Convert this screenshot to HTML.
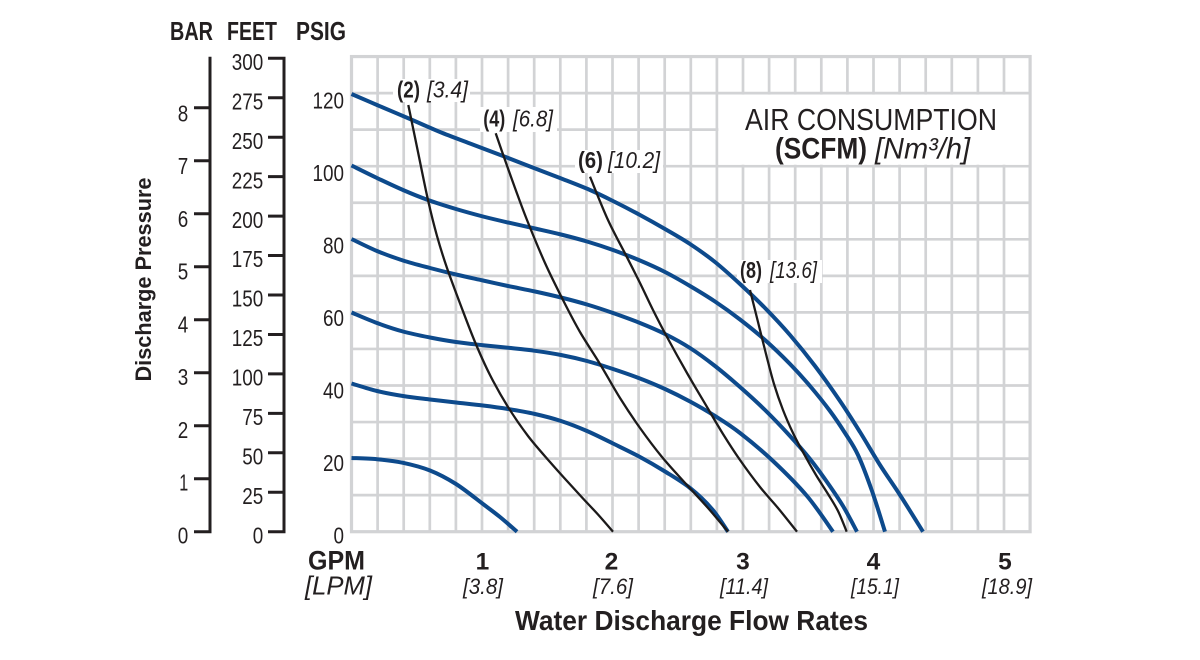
<!DOCTYPE html>
<html><head><meta charset="utf-8"><style>
html,body{margin:0;padding:0;background:#fff;}
svg{display:block;}
text{font-family:"Liberation Sans",Arial,sans-serif;fill:#231f20;}
.b{font-weight:bold;}
.i{font-style:italic;}
</style></head><body>
<svg id="chart" width="1200" height="660" viewBox="0 0 1200 660" xmlns="http://www.w3.org/2000/svg">
<rect width="1200" height="660" fill="#fff"/>
<!-- grid -->
<path stroke="#d2d3d5" stroke-width="2.7" fill="none" d="
M377.6 56.55V531.7M403.7 56.55V531.7M429.8 56.55V531.7M455.9 56.55V531.7M482 56.55V531.7M508.1 56.55V531.7M534.2 56.55V531.7M560.3 56.55V531.7M586.4 56.55V531.7M612.5 56.55V531.7M638.6 56.55V531.7M664.7 56.55V531.7M690.8 56.55V531.7M716.9 56.55V531.7M743 56.55V531.7M769.1 56.55V531.7M795.2 56.55V531.7M821.3 56.55V531.7M847.4 56.55V531.7M873.5 56.55V531.7M899.6 56.55V531.7M925.7 56.55V531.7M951.8 56.55V531.7M977.9 56.55V531.7M1004 56.55V531.7
M351.5 495.15H1030.1M351.5 458.6H1030.1M351.5 422.05H1030.1M351.5 385.5H1030.1M351.5 348.95H1030.1M351.5 312.4H1030.1M351.5 275.85H1030.1M351.5 239.3H1030.1M351.5 202.75H1030.1M351.5 166.2H1030.1M351.5 129.65H1030.1M351.5 93.1H1030.1"/>
<rect x="351.5" y="56.55" width="678.6" height="475.15" fill="none" stroke="#d2d3d5" stroke-width="3.2"/>
<!-- white label boxes -->
<rect x="718.4" y="94.6" width="310.2" height="70.1" fill="#fff"/>
<rect x="393" y="79" width="77" height="23" fill="#fff"/>
<rect x="480" y="107" width="77" height="25" fill="#fff"/>
<rect x="575" y="150" width="88" height="23" fill="#fff"/>
<rect x="737" y="260" width="85" height="23" fill="#fff"/>
<!-- blue curves -->
<g fill="none" stroke="#0d4a8c" stroke-width="4" stroke-linejoin="round" stroke-linecap="butt">
<polyline class="s" points="351.5,458 377,459.2 403,462.8 430,470.5 456,484 483,504 500,517 517,531.7"/>
<polyline class="s" points="351.5,383.5 377,391 403,396 430,399.5 456,402.5 483,405.5 508,409 535,414 561,421 587,431 613,443.5 640,457 665,471.5 690,488 712,509 728,531.7"/>
<polyline class="s" points="351.5,312.5 377,323 403,331.5 430,337.5 456,342 483,345.2 508,347.8 535,350.8 561,355 587,361 613,369 640,378.5 665,389 690,401.5 715,416 740,433 773,461 807,496 833,531.7"/>
<polyline class="s" points="351.5,239 377,251 403,260.5 430,268 456,274.5 483,280.5 508,286 535,291.5 561,297.5 587,304.5 613,313 640,323 665,334 690,348 715,366 740,387 765,410 790,436 810,459 827,482 843,506 857,531.7"/>
<polyline class="s" points="351.5,165.5 377,178 403,190 428,200 456,209 483,216.5 508,222.5 535,228.5 561,234.5 587,241.5 613,250 640,260.5 665,272 690,286 715,301.5 740,319.5 765,340 790,364 810,386 830,411 845,433 858,455 872,491 885,531.7"/>
<polyline class="s" points="351.5,94 377,105 410,119 440,132 470,143.5 503,156 530,166.5 560,178 590,190 615,202 640,215 665,229 690,244 715,262 740,284 765,308 790,335 815,366 840,401 860,432 880,465 900,495 923,531.7"/>
</g>
<!-- black curves -->
<g fill="none" stroke="#1c1a1a" stroke-width="2.3" stroke-linejoin="round">
<polyline class="s" points="408.3,105 418,152 428,200 437,236 447,268 461,306 475,342 490,375 508,407 528,436 550,462 567,481 583,498.5 598,514.5 613,531.7"/>
<polyline class="s" points="495.7,133.3 505,160 515,188 527,220 545,263 563,300 580,332 600,364 620,398 640,428 662,457 686,484 708,508 728,531.7"/>
<polyline class="s" points="590,176.7 608,220 626.7,256.7 640,283 653,310 667,337 687,373 707,407 723,434 740,460 760,487 778,508 797,531.7"/>
<polyline class="s" points="750,290 758,322 766,354 774,384 783,410 793,433 804,454 816,475 828,494 838,511 846.7,531.7"/>
</g>
<!-- curve labels -->
<g font-size="23">
<text class="b" x="397" y="97.5" textLength="23" lengthAdjust="spacingAndGlyphs">(2)</text>
<text class="i" x="427" y="97.5" textLength="41" lengthAdjust="spacingAndGlyphs">[3.4]</text>
<text class="b" x="483.3" y="126.5" textLength="22" lengthAdjust="spacingAndGlyphs">(4)</text>
<text class="i" x="513" y="126.5" textLength="40" lengthAdjust="spacingAndGlyphs">[6.8]</text>
<text class="b" x="578" y="168" textLength="25" lengthAdjust="spacingAndGlyphs">(6)</text>
<text class="i" x="608" y="168" textLength="52" lengthAdjust="spacingAndGlyphs">[10.2]</text>
<text class="b" x="740" y="278" textLength="22" lengthAdjust="spacingAndGlyphs">(8)</text>
<text class="i" x="770" y="278" textLength="47" lengthAdjust="spacingAndGlyphs">[13.6]</text>
</g>
<!-- legend -->
<text x="745" y="130" font-size="31" textLength="252" lengthAdjust="spacingAndGlyphs">AIR CONSUMPTION</text>
<text class="b" x="775" y="158.5" font-size="30" textLength="92" lengthAdjust="spacingAndGlyphs">(SCFM)</text>
<text class="i" x="875" y="158.5" font-size="30" textLength="95" lengthAdjust="spacingAndGlyphs">[Nm³/h]</text>
<!-- left axes -->
<g stroke="#231f20" stroke-width="3" fill="none">
<path d="M210 56.7V533.2M194 531.7H211.5M194 478.7H210M194 425.7H210M194 372.7H210M194 319.7H210M194 266.7H210M194 213.7H210M194 160.7H210M194 107.7H210"/>
<path d="M284 56.8V533.2M268 531.7H285.5M268 492.25H284M268 452.8H284M268 413.35H284M268 373.9H284M268 334.45H284M268 295H284M268 255.55H284M268 216.1H284M268 176.65H284M268 137.2H284M268 97.75H284M268 58.3H285.5"/>
</g>
<g font-size="23.5" text-anchor="end">
<text x="188.3" y="543.3" textLength="10.5" lengthAdjust="spacingAndGlyphs">0</text>
<text x="188.3" y="490.55" textLength="9" lengthAdjust="spacingAndGlyphs">1</text>
<text x="188.3" y="437.8" textLength="10.5" lengthAdjust="spacingAndGlyphs">2</text>
<text x="188.3" y="385.05" textLength="10.5" lengthAdjust="spacingAndGlyphs">3</text>
<text x="188.3" y="332.3" textLength="10.5" lengthAdjust="spacingAndGlyphs">4</text>
<text x="188.3" y="279.55" textLength="10.5" lengthAdjust="spacingAndGlyphs">5</text>
<text x="188.3" y="226.8" textLength="10.5" lengthAdjust="spacingAndGlyphs">6</text>
<text x="188.3" y="174.05" textLength="10.5" lengthAdjust="spacingAndGlyphs">7</text>
<text x="188.3" y="121.3" textLength="10.5" lengthAdjust="spacingAndGlyphs">8</text>

<text x="263.3" y="543.3" textLength="10.5" lengthAdjust="spacingAndGlyphs">0</text>
<text x="263.3" y="503.9" textLength="21" lengthAdjust="spacingAndGlyphs">25</text>
<text x="263.3" y="464.4" textLength="21" lengthAdjust="spacingAndGlyphs">50</text>
<text x="263.3" y="425" textLength="21" lengthAdjust="spacingAndGlyphs">75</text>
<text x="263.3" y="385.5" textLength="31.5" lengthAdjust="spacingAndGlyphs">100</text>
<text x="263.3" y="346.1" textLength="31.5" lengthAdjust="spacingAndGlyphs">125</text>
<text x="263.3" y="306.7" textLength="31.5" lengthAdjust="spacingAndGlyphs">150</text>
<text x="263.3" y="267.2" textLength="31.5" lengthAdjust="spacingAndGlyphs">175</text>
<text x="263.3" y="227.8" textLength="31.5" lengthAdjust="spacingAndGlyphs">200</text>
<text x="263.3" y="188.3" textLength="31.5" lengthAdjust="spacingAndGlyphs">225</text>
<text x="263.3" y="148.9" textLength="31.5" lengthAdjust="spacingAndGlyphs">250</text>
<text x="263.3" y="109.5" textLength="31.5" lengthAdjust="spacingAndGlyphs">275</text>
<text x="263.3" y="70" textLength="31.5" lengthAdjust="spacingAndGlyphs">300</text>

<text x="344" y="543.4" textLength="10.5" lengthAdjust="spacingAndGlyphs">0</text>
<text x="344" y="470.9" textLength="21" lengthAdjust="spacingAndGlyphs">20</text>
<text x="344" y="398.4" textLength="21" lengthAdjust="spacingAndGlyphs">40</text>
<text x="344" y="325.9" textLength="21" lengthAdjust="spacingAndGlyphs">60</text>
<text x="344" y="253.4" textLength="21" lengthAdjust="spacingAndGlyphs">80</text>
<text x="344" y="180.9" textLength="31.5" lengthAdjust="spacingAndGlyphs">100</text>
<text x="344" y="108.4" textLength="31.5" lengthAdjust="spacingAndGlyphs">120</text>
</g>
<g class="b" font-size="25.5">
<text class="b" x="170" y="40" textLength="43" lengthAdjust="spacingAndGlyphs">BAR</text>
<text class="b" x="227" y="40" textLength="50" lengthAdjust="spacingAndGlyphs">FEET</text>
<text class="b" x="296" y="40" textLength="50" lengthAdjust="spacingAndGlyphs">PSIG</text>
</g>
<text class="b" font-size="22" text-anchor="middle" transform="translate(151,279.5) rotate(-90)" textLength="204" lengthAdjust="spacingAndGlyphs">Discharge Pressure</text>
<!-- bottom axis -->
<text class="b" x="308" y="569.3" font-size="27" textLength="57" lengthAdjust="spacingAndGlyphs">GPM</text>
<text class="i" x="305" y="594.5" font-size="25.5" textLength="67" lengthAdjust="spacingAndGlyphs">[LPM]</text>
<g class="b" font-size="24.5" text-anchor="middle">
<text class="b" x="482.5" y="569.5">1</text>
<text class="b" x="611.5" y="569.5">2</text>
<text class="b" x="743" y="569.5">3</text>
<text class="b" x="873.5" y="569.5">4</text>
<text class="b" x="1005" y="569.5">5</text>
</g>
<g font-size="22" text-anchor="middle">
<text class="i" x="483" y="594" textLength="40" lengthAdjust="spacingAndGlyphs">[3.8]</text>
<text class="i" x="613" y="594" textLength="40" lengthAdjust="spacingAndGlyphs">[7.6]</text>
<text class="i" x="744" y="594" textLength="48" lengthAdjust="spacingAndGlyphs">[11.4]</text>
<text class="i" x="875" y="594" textLength="48" lengthAdjust="spacingAndGlyphs">[15.1]</text>
<text class="i" x="1007" y="594" textLength="50" lengthAdjust="spacingAndGlyphs">[18.9]</text>
</g>
<text class="b" x="515" y="630" font-size="28" textLength="353" lengthAdjust="spacingAndGlyphs">Water Discharge Flow Rates</text>
</svg>
<script>
(function(){
  var NS="http://www.w3.org/2000/svg";
  var pls=document.querySelectorAll("polyline.s");
  for(var k=0;k<pls.length;k++){
    var pl=pls[k];
    var raw=pl.getAttribute("points").trim().split(/\s+/);
    var P=[];
    for(var i=0;i<raw.length;i++){var c=raw[i].split(",");P.push([+c[0],+c[1]]);}
    var n=P.length;
    var d="M"+P[0][0]+" "+P[0][1];
    for(var i=0;i<n-1;i++){
      var p0=P[i>0?i-1:i],p1=P[i],p2=P[i+1],p3=P[i+2<n?i+2:i+1];
      var c1x=p1[0]+(p2[0]-p0[0])/6,c1y=p1[1]+(p2[1]-p0[1])/6;
      var c2x=p2[0]-(p3[0]-p1[0])/6,c2y=p2[1]-(p3[1]-p1[1])/6;
      d+="C"+c1x.toFixed(2)+" "+c1y.toFixed(2)+" "+c2x.toFixed(2)+" "+c2y.toFixed(2)+" "+p2[0]+" "+p2[1];
    }
    var path=document.createElementNS(NS,"path");
    path.setAttribute("d",d);
    pl.parentNode.replaceChild(path,pl);
  }
})();
</script>
</body></html>
